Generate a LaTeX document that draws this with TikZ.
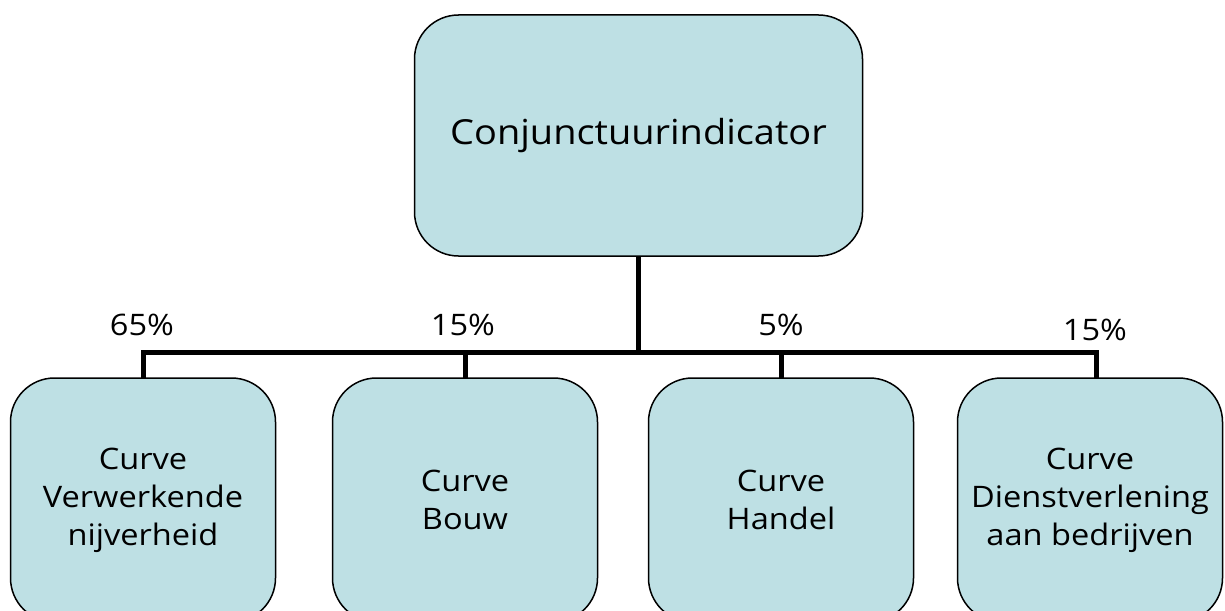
\documentclass[tikz,border=0pt]{standalone}
\usepackage{fontspec}
\setmainfont[FakeStretch=1.1]{Open Sans}
\definecolor{boxfill}{RGB}{190,224,228}
\begin{document}
\begin{tikzpicture}[x=1pt,y=-1pt,
  card/.style={draw=black, line width=1.5pt, fill=boxfill, rounded corners=44pt,
    align=center, inner sep=0pt, outer sep=0pt},
  topcard/.style={card, minimum width=448pt, minimum height=241pt,
    font=\fontsize{34.5}{40}\selectfont},
  leaf/.style={card, minimum width=265pt, minimum height=244pt,
    font=\fontsize{29.6}{38}\selectfont},
  wire/.style={line width=5pt, line join=miter},
  pct/.style={anchor=base, inner sep=0pt, font=\fontsize{29.6}{34}\selectfont}]
\useasboundingbox (0,0) rectangle (1225,610);
\node[topcard] (top) at (638.5,135.5) {\raisebox{-3pt}{Conjunctuurindicator}};
\node[leaf] (b1) at (143,500) {Curve\\Verwerkende\\nijverheid};
\node[leaf] (b2) at (465,500) {Curve\\Bouw};
\node[leaf] (b3) at (781,500) {Curve\\Handel};
\node[leaf] (b4) at (1090,500) {Curve\\Dienstverlening\\aan bedrijven};
\coordinate (bus) at (638.5,352);
\coordinate (d4) at (1096,378);
\draw[wire] (top.south) -- (bus);
\draw[wire] (b1.north) |- (bus) -| (d4);
\draw[wire] (b2.north) -- (b2.north |- bus);
\draw[wire] (b3.north) -- (b3.north |- bus);
\node[pct] (p1) at (142,335) {65\%};
\node[pct] (p2) at (463,335) {15\%};
\node[pct] (p3) at (781,335) {5\%};
\node[pct] (p4) at (1095,340) {15\%};
\end{tikzpicture}
\end{document}
